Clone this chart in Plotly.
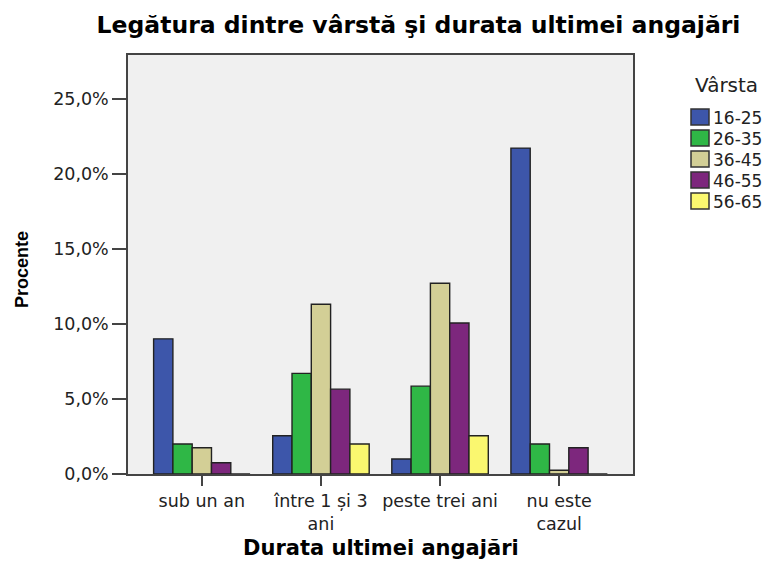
import plotly.graph_objects as go

categories = ["sub un an", "între 1 și 3<br>ani", "peste trei ani", "nu este<br>cazul"]
age_groups = ["16-25", "26-35", "36-45", "46-55", "56-65"]
v_16_25 = [9.0, 2.55, 1.0, 21.7]
v_26_35 = [2.0, 6.7, 5.85, 2.0]
v_36_45 = [1.75, 11.3, 12.7, 0.25]
v_46_55 = [0.75, 5.65, 10.05, 1.75]
v_56_65 = [0.0, 2.0, 2.55, 0.0]
y_ticks = [0, 5, 10, 15, 20, 25]
y_ticktext = ["0,0%", "5,0%", "10,0%", "15,0%", "20,0%", "25,0%"]
colors = ["#3D56AA", "#2FB746", "#D3CF96", "#7D277D", "#FAF76F"]

series = [v_16_25, v_26_35, v_36_45, v_46_55, v_56_65]

# page pixel -> paper coords (plot area spans x 128..633, y 55..474 on the page)
def px_x(x):
    return (x - 128) / 505.0

def px_y(y):
    return (474 - y) / 419.0

SANS = "DejaVu Sans, Verdana, sans-serif"
ARIAL = "Liberation Sans, Arial, sans-serif"

fig = go.Figure()
for name, vals, col in zip(age_groups, series, colors):
    fig.add_trace(go.Bar(
        x=categories, y=vals, name=name,
        marker=dict(color=col, line=dict(color="#222222", width=1.4)),
    ))

annotations = [
    dict(text="<b>Durata ultimei angajări</b>", x=0.5, y=px_y(548), xref="paper", yref="paper",
         xanchor="center", yanchor="middle", showarrow=False,
         font=dict(family=SANS, size=21, color="black")),
    dict(text="<b>Procente</b>", x=px_x(22), y=px_y(270), xref="paper", yref="paper",
         xanchor="center", yanchor="middle", showarrow=False, textangle=-90,
         font=dict(family=ARIAL, size=18, color="black")),
    dict(text="Vârsta", x=px_x(693), y=px_y(85), xref="paper", yref="paper",
         xanchor="left", yanchor="middle", showarrow=False,
         font=dict(family=SANS, size=20, color="#222222")),
]
shapes = []
for i, (name, col) in enumerate(zip(age_groups, colors)):
    cy = 117 + 21 * i
    shapes.append(dict(type="rect", xref="paper", yref="paper",
                       x0=px_x(691), x1=px_x(709), y0=px_y(cy + 8), y1=px_y(cy - 8),
                       fillcolor=col, line=dict(color="#333333", width=1.5)))
    annotations.append(dict(text=name, x=px_x(711), y=px_y(cy + 1), xref="paper", yref="paper",
                            xanchor="left", yanchor="middle", showarrow=False,
                            font=dict(family=SANS, size=17, color="#222222")))

fig.update_layout(
    width=763, height=554,
    barmode="group", bargap=0.19, bargroupgap=0,
    paper_bgcolor="white", plot_bgcolor="#F0F0F0",
    margin=dict(l=120, r=138, t=47, b=88, pad=0),
    font=dict(family=SANS, size=17.5, color="#222222"),
    title=dict(text="<b>Legătura dintre vârstă şi durata ultimei angajări</b>",
               xref="container", x=(418.5 - 8) / 763, xanchor="center",
               yref="container", y=1 - (25 - 8) / 554, yanchor="middle",
               font=dict(family=SANS, size=23.5, color="black")),
    xaxis=dict(
        range=[-0.62, 3.62], showline=True, linecolor="#444444", linewidth=1.5, mirror=True,
        ticks="outside", ticklen=10, tickcolor="#444444", tickwidth=2,
        showgrid=False, tickfont=dict(size=17.5),
    ),
    yaxis=dict(
        range=[0, 27.9], tickvals=y_ticks, ticktext=y_ticktext,
        showline=True, linecolor="#444444", linewidth=1.5, mirror=True,
        ticks="outside", ticklen=14, tickcolor="#444444", tickwidth=2,
        showgrid=False, zeroline=False, tickfont=dict(size=17.5),
    ),
    showlegend=False,
    annotations=annotations,
    shapes=shapes,
)

fig.write_html("out.html")
